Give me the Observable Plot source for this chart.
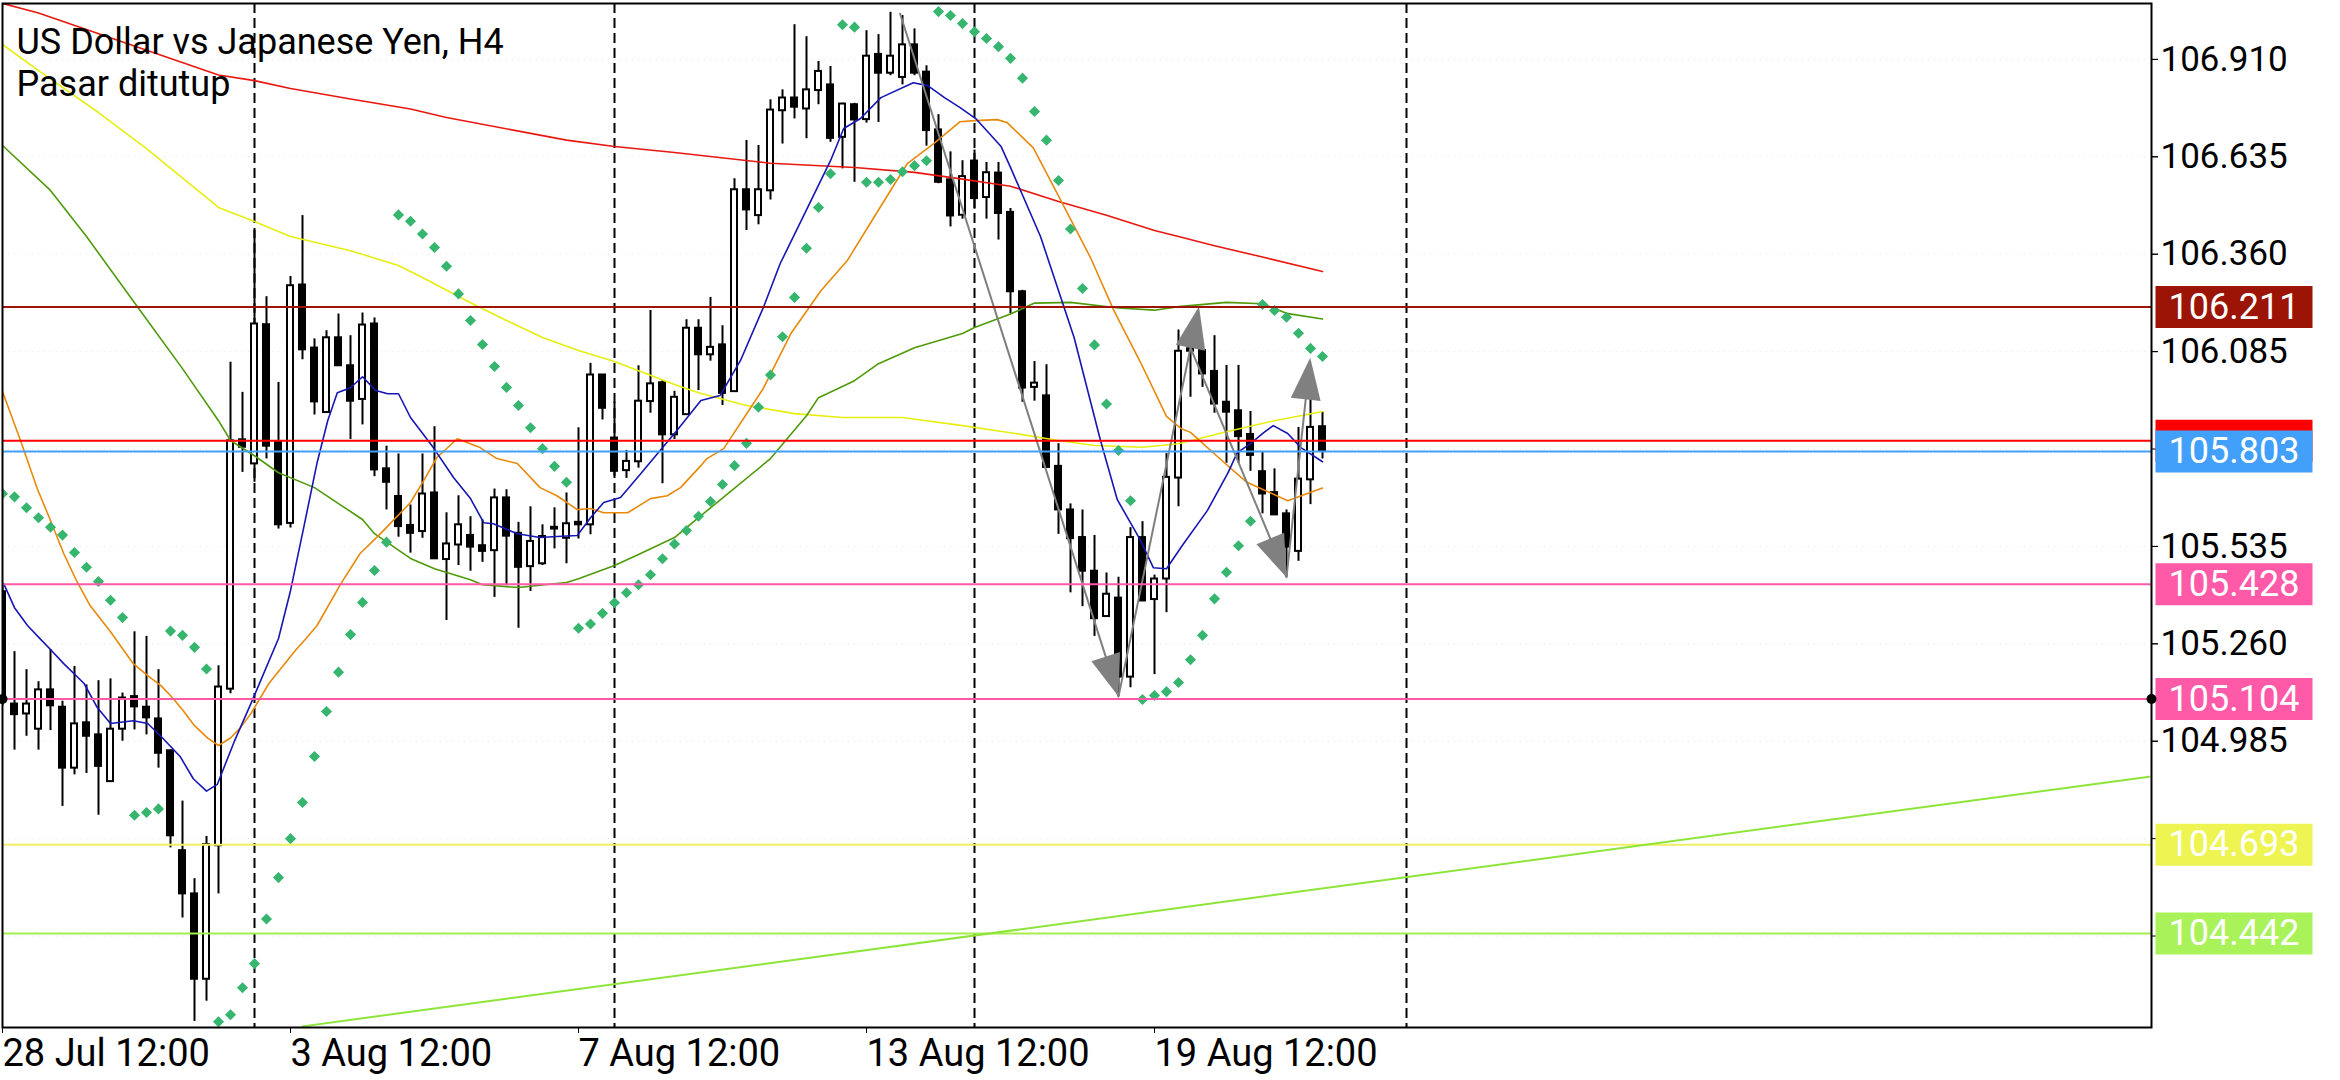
<!DOCTYPE html>
<html><head><meta charset="utf-8">
<script src="https://cdn.jsdelivr.net/npm/d3@7"></script>
<script src="https://cdn.jsdelivr.net/npm/@observablehq/plot@0.6"></script>
<style>html,body{margin:0;padding:0;background:#fff;} #chart{width:2340px;height:1080px;overflow:hidden;}</style>
</head><body><div id="chart"></div>
<script>
// ---------- data ----------
const title = "US Dollar vs Japanese Yen, H4";
const subtitle = "Pasar ditutup";

const opens = [
105.407,105.090,105.062,105.019,105.130,105.081,104.909,105.037,105.003,104.871,
105.019,105.111,105.081,105.048,104.958,104.676,104.554,104.313,104.690,105.132,
105.836,105.768,106.161,105.831,105.600,106.273,106.095,105.913,106.124,106.045,
105.950,106.163,105.754,105.676,105.594,105.577,105.686,105.498,105.539,105.566,
105.537,105.523,105.672,105.572,105.478,105.486,105.584,105.558,105.603,105.596,
106.019,105.841,105.749,105.774,105.944,105.997,105.850,105.907,106.151,106.076,
106.104,105.972,106.542,106.469,106.539,106.765,106.801,106.770,106.822,106.838,
106.690,106.782,106.740,106.924,106.871,106.859,106.951,106.874,106.711,106.570,
106.470,106.623,106.520,106.589,106.478,106.254,105.984,105.960,105.761,105.638,
105.560,105.465,105.337,105.389,105.166,105.560,105.385,105.443,105.728,106.093,
106.088,106.029,105.942,105.918,105.851,105.746,105.687,105.627,105.521,105.723,105.873];
const highs = [
105.424,105.238,105.187,105.153,105.244,105.098,105.196,105.144,105.156,105.161,
105.121,105.294,105.281,105.187,104.960,104.816,104.597,104.716,105.198,106.055,
105.970,106.427,106.240,105.998,106.297,106.469,106.121,106.144,106.191,106.130,
106.194,106.180,105.818,105.796,105.652,105.796,105.873,105.630,105.678,105.619,
105.610,105.697,105.695,105.603,105.647,105.596,105.644,105.686,105.870,106.052,
106.019,105.942,105.806,106.045,106.201,106.003,105.973,106.175,106.175,106.238,
106.158,106.573,106.681,106.667,106.796,106.824,107.008,106.974,106.904,106.890,
106.786,106.786,106.991,106.980,107.043,107.034,106.996,106.892,106.754,106.649,
106.624,106.654,106.619,106.619,106.489,106.258,106.057,106.048,105.825,105.655,
105.638,105.566,105.460,105.448,105.588,105.605,105.454,105.797,106.146,106.102,
106.102,106.130,106.046,106.046,105.916,105.801,105.754,105.638,105.871,105.952,105.914];
const lows = [
105.086,104.960,104.999,104.960,105.015,104.801,104.890,104.894,104.776,104.871,
104.985,105.017,105.003,104.909,104.684,104.486,104.194,104.251,104.554,105.119,
105.744,105.716,105.782,105.584,105.587,106.062,105.906,105.913,106.045,105.837,
105.878,105.732,105.638,105.561,105.516,105.558,105.500,105.326,105.481,105.465,
105.490,105.391,105.424,105.304,105.408,105.481,105.528,105.486,105.556,105.568,
105.892,105.733,105.727,105.756,105.911,105.712,105.837,105.907,105.975,106.058,
105.933,105.972,106.427,106.443,106.513,106.671,106.742,106.686,106.782,106.676,
106.601,106.563,106.730,106.732,106.864,106.838,106.864,106.665,106.559,106.437,
106.459,106.487,106.459,106.400,106.191,105.942,105.945,105.756,105.569,105.404,
105.365,105.281,105.337,105.111,105.136,105.381,105.173,105.348,105.647,105.956,
105.984,105.911,105.770,105.770,105.747,105.627,105.624,105.448,105.493,105.653,105.782];
const closes = [
105.100,105.060,105.090,105.130,105.085,104.909,105.034,104.999,104.914,105.019,
105.107,105.082,105.051,104.951,104.718,104.554,104.313,104.693,105.138,105.833,
105.815,106.163,105.818,105.596,106.271,106.090,105.943,106.124,106.045,105.945,
106.160,105.751,105.716,105.591,105.572,105.683,105.500,105.542,105.596,105.533,
105.521,105.672,105.564,105.476,105.549,105.563,105.589,105.599,105.596,106.019,
105.925,105.747,105.775,105.945,105.994,105.850,105.956,106.151,106.076,106.097,
105.967,106.542,106.485,106.542,106.767,106.801,106.775,106.824,106.876,106.687,
106.784,106.739,106.919,106.871,106.919,106.951,106.871,106.709,106.563,106.468,
106.579,106.517,106.590,106.475,106.254,105.982,105.996,105.758,105.638,105.557,
105.465,105.331,105.400,105.166,105.560,105.381,105.443,105.730,106.086,106.086,
106.022,105.937,105.914,105.845,105.792,105.683,105.624,105.533,105.725,105.871,105.803];

// Parabolic SAR, one per bar
const sar = [
105.684,105.675,105.644,105.616,105.589,105.567,105.518,105.476,105.436,105.383,
105.334,104.776,104.784,104.794,105.296,105.284,105.250,105.189,104.193,104.213,
104.289,104.357,104.483,104.600,104.710,104.812,104.942,105.069,105.180,105.286,
105.377,105.467,105.547,106.471,106.453,106.417,106.379,106.326,106.248,106.173,
106.105,106.043,105.984,105.933,105.870,105.811,105.761,105.716,105.304,105.316,
105.346,105.376,105.404,105.427,105.455,105.500,105.542,105.580,105.620,105.662,
105.710,105.763,105.826,105.928,106.019,106.127,106.238,106.377,106.492,106.587,
107.008,107.001,106.563,106.563,106.571,106.593,106.610,106.624,107.045,107.034,
107.011,106.988,106.969,106.946,106.913,106.857,106.763,106.682,106.568,106.431,
106.263,106.104,105.937,105.806,105.664,105.103,105.114,105.125,105.151,105.215,
105.284,105.387,105.462,105.537,105.606,106.218,106.201,106.182,106.137,106.094,106.071];

// Moving averages: [bar index, price]
const maRed = [[0,107.068],[3,107.041],[18,106.866],[21,106.850],[24,106.828],[29,106.798],[34,106.770],[37,106.746],[47,106.682],[51,106.664],[56,106.647],[64,106.617],[71,106.605],[76,106.591],[80,106.572],[84,106.552],[88,106.509],[92,106.470],[96,106.427],[98,106.410],[101,106.384],[105,106.352],[110,106.311]];
const maYellow = [[0,106.952],[3,106.878],[8,106.760],[12,106.658],[18,106.492],[21,106.452],[24,106.410],[29,106.370],[33,106.328],[35,106.294],[39,106.223],[42,106.173],[45,106.125],[48,106.088],[51,106.057],[53,106.031],[56,105.992],[58,105.969],[62,105.933],[66,105.910],[70,105.899],[75,105.899],[80,105.876],[84,105.856],[88,105.834],[91,105.820],[95,105.815],[98,105.825],[102,105.859],[106,105.890],[110,105.916]];
const maGreen = [[0,106.667],[4,106.540],[7,106.410],[11,106.223],[15,106.037],[18,105.890],[19,105.834],[21,105.791],[23,105.743],[26,105.701],[28,105.656],[30,105.611],[31,105.571],[34,105.501],[36,105.472],[39,105.441],[40,105.427],[43,105.419],[47,105.433],[48,105.444],[51,105.481],[53,105.512],[56,105.560],[58,105.616],[64,105.783],[67,105.904],[68,105.955],[71,106.003],[73,106.051],[76,106.096],[80,106.136],[81,106.153],[84,106.191],[86,106.222],[89,106.224],[93,106.208],[96,106.202],[98,106.212],[102,106.224],[105,106.220],[107,106.193],[110,106.177]];
const maOrange = [[0,105.972],[1.5,105.834],[2.9,105.698],[4,105.608],[5.1,105.515],[6.2,105.436],[7.3,105.368],[9,105.294],[10.9,105.204],[12.1,105.170],[13.2,105.142],[14,105.114],[15,105.074],[16,105.029],[17.1,104.994],[18,104.973],[19,104.994],[19.8,105.022],[20.7,105.063],[22.2,105.148],[24.4,105.241],[25.3,105.275],[26.2,105.311],[28.2,105.430],[29.8,105.515],[31.5,105.571],[34,105.659],[35.1,105.721],[36.2,105.786],[37.9,105.839],[39.8,105.814],[41.2,105.783],[42.9,105.769],[44.8,105.701],[46.2,105.678],[47.9,105.639],[49,105.642],[50.1,105.630],[52.1,105.630],[54,105.670],[55.4,105.678],[56.5,105.701],[58.2,105.763],[58.7,105.783],[60.1,105.811],[63.4,105.981],[65.7,106.136],[68.2,106.257],[70.4,106.342],[72.6,106.463],[75.4,106.616],[77.6,106.672],[79.8,106.734],[81,106.737],[82.9,106.740],[83.7,106.732],[85.9,106.660],[87.9,106.531],[90.7,106.348],[92.6,106.202],[94.8,106.057],[97,105.902],[98.2,105.868],[99,105.857],[101.8,105.772],[103.7,105.716],[107.1,105.664],[110,105.700]];
const maBlue = [[0.1,105.430],[1,105.362],[2.1,105.311],[3.2,105.272],[4,105.244],[5.1,105.204],[6.8,105.148],[7.9,105.080],[9,105.035],[10.9,105.043],[12.1,105.035],[13.2,104.999],[14.8,104.942],[15.9,104.879],[17,104.844],[17.9,104.863],[19.3,104.983],[20.7,105.091],[23,105.275],[24,105.410],[25.1,105.588],[26.2,105.769],[27.1,105.890],[27.9,105.969],[29,105.983],[30,106.014],[31.1,105.975],[32.1,105.966],[33,105.966],[34,105.899],[35.9,105.814],[37.6,105.729],[39,105.670],[40.1,105.602],[40.9,105.599],[42.9,105.571],[44.8,105.560],[46.2,105.563],[47.9,105.566],[49,105.616],[50.1,105.659],[51.5,105.673],[53.2,105.741],[54.8,105.806],[56.2,105.862],[58.2,105.947],[59.8,105.961],[61.5,106.060],[63.4,106.209],[64.8,106.333],[67.1,106.492],[69,106.624],[70.1,106.715],[71.5,106.743],[73.2,106.802],[75.9,106.844],[77.1,106.836],[78.5,106.802],[79.8,106.774],[81.1,106.743],[83.2,106.665],[84,106.605],[86.5,106.410],[89.3,106.125],[91.5,105.834],[92.9,105.667],[94.8,105.554],[95.9,105.475],[97,105.472],[98.3,105.537],[100.4,105.636],[102.1,105.741],[102.9,105.800],[104,105.825],[105.1,105.856],[105.9,105.876],[107.1,105.854],[108.2,105.814],[110,105.774]];

// ZigZag vertices [bar index, price]
const zigzag = [[74.8,107.039],[93,105.111],[99,106.096],[107,105.448],[108.6,105.950]];

// Horizontal price lines / labels (drawn in this order; later ones cover earlier ones)
const levelPrices = [106.211, 105.833, 105.803, 105.428, 105.104, 104.693, 104.442];
const levelColors = ["#9b1405", "#ff0000", "#42a0fa", "#ff5aa8", "#ff5aa8", "#eef552", "#aaf25a"];
const lineColors  = ["#9b1405", "#ff0000", "#42a0fa", "#ff5aa8", "#ff5aa8", "#eef060", "#a6ee4e"];
const levelShowText = [true, false, true, true, true, true, true]; // red ask label is covered by the blue one
// trend line endpoints [bar index, price]
const trendLine = [[25,104.180],[178.9,104.885]];

const separators = [21, 51, 81, 117];
const xTickIdx = [0, 24, 48, 72, 96];
const xTickLabels = ["28 Jul 12:00", "3 Aug 12:00", "7 Aug 12:00", "13 Aug 12:00", "19 Aug 12:00"];
const yTicks = [106.910, 106.635, 106.360, 106.085, 105.810, 105.535, 105.260, 104.985, 104.710, 104.435];
const yTickVisible = [106.910, 106.635, 106.360, 106.085, 105.535, 105.260, 104.985]; // others sit under price labels

// ---------- layout ----------
const W = 2340, H = 1080, mL = 2, mR = 189, mT = 3, mB = 53;
const xDom = [0, 179.083], yDom = [104.1768, 107.0678];
const kx = (W - mL - mR) / (xDom[1] - xDom[0]);
const ky = (H - mT - mB) / (yDom[1] - yDom[0]);

const candles = opens.map((o, i) => ({i, o, h: highs[i], l: lows[i], c: closes[i], up: closes[i] >= o}));
const sarPts = sar.map((v, i) => [i, v]);
const levels = levelPrices.map((p, k) => ({price: p, box: levelColors[k], line: lineColors[k], show: levelShowText[k]}));

function angle(a, b) {
  const dx = (b[0] - a[0]) * kx, dy = -(b[1] - a[1]) * ky;
  return Math.atan2(dx, -dy) * 180 / Math.PI;
}
const downArrows = [
  {x: zigzag[1][0], y: zigzag[1][1], r: angle(zigzag[0], zigzag[1])},
  {x: zigzag[3][0], y: zigzag[3][1], r: angle(zigzag[2], zigzag[3])}
];
const upArrows = [
  {x: zigzag[2][0], y: zigzag[2][1], r: angle(zigzag[1], zigzag[2])},
  {x: zigzag[4][0], y: zigzag[4][1], r: angle(zigzag[3], zigzag[4])}
];
const triShape = {draw(ctx, l) { ctx.moveTo(-15, 0); ctx.lineTo(0, -l); ctx.lineTo(15, 0); ctx.closePath(); }};
const boxSymbol = {draw(ctx) { ctx.rect(-78.5, -21, 157, 42); }};

const lineOpts = (c) => ({x: d => d[0], y: d => d[1], stroke: c, strokeWidth: 1.6, clip: true});

const labelMarks = levels.flatMap(lv => [
  Plot.dot([lv], {y: "price", frameAnchor: "right", dx: 82.5, symbol: boxSymbol, fill: lv.box, r: 5}),
  ...(lv.show ? [Plot.text([lv], {y: "price", text: d => d.price.toFixed(3), frameAnchor: "right", dx: 82.5,
      textAnchor: "middle", fill: "#fff", fontSize: 36})] : [])
]);

const chart = Plot.plot({
  width: W, height: H,
  marginLeft: mL, marginRight: mR, marginTop: mT, marginBottom: mB,
  style: {fontFamily: "Roboto, 'Noto Sans', sans-serif", background: "#fff", color: "#000", overflow: "visible"},
  x: {type: "linear", domain: xDom},
  y: {type: "linear", domain: yDom},
  marks: [
    Plot.ruleY(yTicks, {stroke: "#e4e4e4", strokeDasharray: "1,5"}),
    Plot.ruleX(separators, {stroke: "#000", strokeWidth: 2, strokeDasharray: "10,5", clip: true}),
    // candles
    Plot.ruleX(candles, {x: "i", y1: "l", y2: "h", stroke: "#000", strokeWidth: 2, clip: true}),
    Plot.rect(candles, {x1: d => d.i - 0.25, x2: d => d.i + 0.25, y1: "o", y2: "c",
      fill: d => d.up ? "#ffffff" : "#000000", stroke: "#000", strokeWidth: 2, clip: true}),
    // indicators
    Plot.line(maRed, lineOpts("#e8170f")),
    Plot.line(maYellow, lineOpts("#e6ee10")),
    Plot.line(maGreen, lineOpts("#4f9a0a")),
    Plot.line(maOrange, lineOpts("#e8890c")),
    Plot.line(maBlue, lineOpts("#1616b4")),
    Plot.dot(sarPts, {x: d => d[0], y: d => d[1], symbol: "diamond2", r: 5, fill: "#36b56f", clip: true}),
    Plot.line(zigzag, {x: d => d[0], y: d => d[1], stroke: "#7f7f7f", strokeWidth: 2, clip: true}),
    Plot.vector(downArrows, {x: "x", y: "y", rotate: "r", length: 42, anchor: "end", shape: triShape, fill: "#808080", stroke: "none"}),
    Plot.vector(upArrows, {x: "x", y: "y", rotate: "r", length: 42, anchor: "start", shape: triShape, fill: "#808080", stroke: "none"}),
    // objects
    Plot.ruleY(levels, {y: "price", stroke: "line", strokeWidth: 2}),
    Plot.line(trendLine, {x: d => d[0], y: d => d[1], stroke: "#8ee53a", strokeWidth: 2, clip: true}),
    Plot.frame({stroke: "#000", strokeWidth: 2}),
    // axes
    Plot.axisY(yTicks, {anchor: "right", tickSize: 6, tickPadding: 3, text: null, label: null, stroke: "#000"}),
    Plot.axisY(yTickVisible, {anchor: "right", tickSize: 6, tickPadding: 3, tickFormat: d => d.toFixed(3), fontSize: 35, label: null, stroke: "#000", fill: "#000"}),
    Plot.axisX(xTickIdx, {anchor: "bottom", tickSize: 6, tickPadding: 6, tickFormat: d => xTickLabels[xTickIdx.indexOf(d)], textAnchor: "start", fontSize: 38, label: null}),
    // price labels
    ...labelMarks,
    Plot.dot([105.104], {y: d => d, frameAnchor: "right", r: 5, fill: "#000"}),
    Plot.dot([105.104], {y: d => d, frameAnchor: "left", r: 5, fill: "#000"}),
    // title
    Plot.text([title], {frameAnchor: "top-left", dx: 14, dy: 25, fontSize: 36, textAnchor: "start", fill: "#000"}),
    Plot.text([subtitle], {frameAnchor: "top-left", dx: 14, dy: 67, fontSize: 36, textAnchor: "start", fill: "#000"})
  ]
});
document.getElementById("chart").appendChild(chart);
</script>
</body></html>
